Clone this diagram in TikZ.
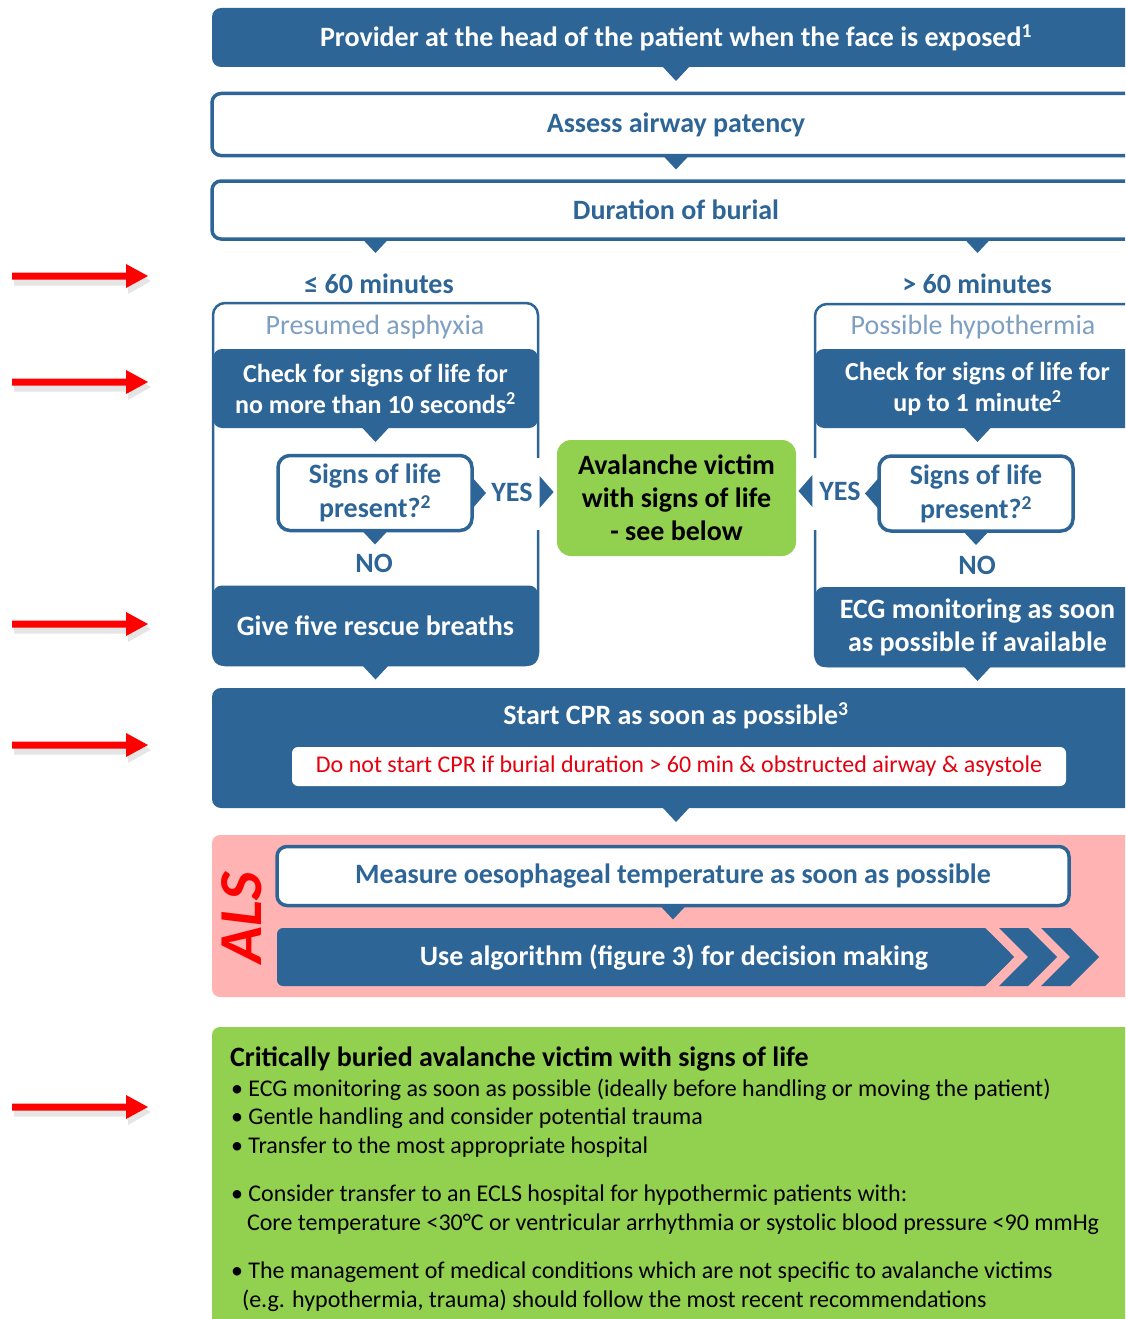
\documentclass[tikz,border=0pt]{standalone}
\usepackage{fontspec}
\setmainfont{Carlito}
\usetikzlibrary{calc}

\definecolor{navy}{HTML}{2E6597}
\definecolor{leaf}{HTML}{92D050}
\definecolor{blush}{HTML}{FFB3B3}
\definecolor{mist}{HTML}{7F9FC1}
\definecolor{alarm}{HTML}{FF0000}
\definecolor{warnred}{HTML}{E5000F}

% small pointer triangles that join the boxes
\newcommand\notchdown[1]{\fill[navy] ($(#1)+(-14,-1)$) -- ($(#1)+(14,-1)$) -- ($(#1)+(0,14)$) -- cycle;}
\newcommand\notchright[1]{\fill[navy] ($(#1)+(0,-16)$) -- ($(#1)+(14,0)$) -- ($(#1)+(0,16)$) -- cycle;}
\newcommand\notchleft[1]{\fill[navy] ($(#1)+(0,-16)$) -- ($(#1)+(-14,0)$) -- ($(#1)+(0,16)$) -- cycle;}

\tikzset{
  every node/.style={inner sep=0pt, outer sep=0pt},
  big/.style={font=\bfseries\fontsize{28}{33}\selectfont},
  solid box/.style={big, fill=navy, text=white, rounded corners=9, align=center},
  check box/.style={solid box, font=\bfseries\fontsize{26}{31}\selectfont},
  outline box/.style={big, draw=navy, line width=3.5, fill=white, text=navy, rounded corners=9, align=center},
  panel/.style={draw=navy, line width=2.5, fill=white, rounded corners=12},
  navytag/.style={big, text=navy},
  subtle/.style={font=\fontsize{28}{30}\selectfont, text=mist},
  query/.style={outline box, minimum width=194, minimum height=75, rounded corners=12, font=\bfseries\fontsize{28}{34}\selectfont},
  vital/.style={big, fill=leaf, text=black, rounded corners=14, align=center},
  caveat/.style={fill=white, rounded corners=6, text=warnred, font=\fontsize{24}{26}\selectfont},
  careline/.style={anchor=base west, text=black, font=\fontsize{24}{26}\selectfont},
  cue/.pic={
    \fill[black, opacity=0.10] (2,0.5) -- (116,0.5) -- (116,-8) -- (139,5) -- (116,18) -- (116,9.5) -- (2,9.5) -- cycle;
    \fill[alarm] (0,-3.5) -- (114,-3.5) -- (114,-12) -- (136,0) -- (114,12) -- (114,3.5) -- (0,3.5) -- cycle;
  }
}

\begin{document}
\begin{tikzpicture}[x=1pt,y=-1pt]
\useasboundingbox (0,0) rectangle (1125,1319);
\clip (0,0) rectangle (1125,1319);
\fill[white] (0,0) rectangle (1125,1319);

% ---- common trunk ----
\node[solid box, minimum width=928, minimum height=59] (head) at (676,37.5)
  {Provider at the head of the patient when the face is exposed\textsuperscript{1}};
\node[outline box, minimum width=928, minimum height=62] (airway) at (676,124.5) {Assess airway patency};
\node[outline box, minimum width=928, minimum height=58] (burial) at (676,210) {Duration of burial};
\notchdown{head.south}
\notchdown{airway.south}

% ---- left branch: up to 60 minutes ----
\node[panel, minimum width=325, minimum height=362] (lframe) at (375.5,484) {};
\node[navytag] (lshort) at (379,284) {≤ 60 minutes};
\node[subtle] (lcause) at (375,327) {Presumed asphyxia};
\node[check box, minimum width=325, minimum height=79] (lcheck) at (375.5,388.5)
  {Check for signs of life for\\no more than 10 seconds\textsuperscript{2}};
\node[query] (lsigns) at (375,493) {Signs of life\\present?\textsuperscript{2}};
\node[navytag] (lyes) at (512,492) {YES};
\node[navytag] (lno) at (374,563) {NO};
\node[solid box, minimum width=325, minimum height=80] (lbreath) at (375.5,625.5) {Give five rescue breaths};

% ---- right branch: over 60 minutes ----
\node[panel, minimum width=325, minimum height=362] (rframe) at (977.5,485) {};
\node[navytag] (rlong) at (977,284) {> 60 minutes};
\node[subtle] (rcause) at (973,327) {Possible hypothermia};
\node[check box, minimum width=325, minimum height=79] (rcheck) at (977.5,388.5)
  {Check for signs of life for\\up to 1 minute\textsuperscript{2}};
\node[query] (rsigns) at (976,493.5) {Signs of life\\present?\textsuperscript{2}};
\node[navytag] (ryes) at (840,491) {YES};
\node[navytag] (rno) at (977,565) {NO};
\node[solid box, minimum width=325, minimum height=80] (recg) at (977.5,627)
  {ECG monitoring as soon\\as possible if available};

% openings in the panel borders where YES leads out
\fill[white] ($(lframe.east |- lsigns.north)+(-3,2)$) rectangle ($(lframe.east |- lsigns.south)+(3,-1)$);
\fill[white] ($(rframe.west |- rsigns.north)+(-3,2)$) rectangle ($(rframe.west |- rsigns.south)+(3,-1)$);

% ---- centre: victim with signs of life ----
\node[vital, minimum width=239, minimum height=116] (victim) at (676.5,498)
  {Avalanche victim\\with signs of life\\- see below};

% pointers
\notchdown{burial.south -| lframe.center}
\notchdown{burial.south -| rframe.center}
\notchdown{lcheck.south}
\notchdown{rcheck.south}
\notchdown{lsigns.south}
\notchdown{rsigns.south}
\notchright{lsigns.east}
\notchleft{rsigns.west}
\notchright{$(lyes.east)+(7,0)$}
\notchleft{$(ryes.west)+(-7,0)$}
\notchdown{lbreath.south}
\notchdown{recg.south}

% ---- CPR ----
\node[solid box, minimum width=928, minimum height=120] (cpr) at (676,748) {};
\node[big, text=white] (cprhead) at (676,716) {Start CPR as soon as possible\textsuperscript{3}};
\node[caveat, minimum width=774, minimum height=39] (nocpr) at (679,766.5)
  {Do not start CPR if burial duration > 60 min \& obstructed airway \& asystole};
\notchdown{cpr.south}

% ---- ALS ----
\node[fill=blush, rounded corners=8, minimum width=928, minimum height=162] (als) at (676,916) {};
\node[rotate=90, text=alarm, font=\bfseries\itshape\fontsize{61}{61}\selectfont] (alstag) at (242,918) {ALS};
\node[outline box, minimum width=792, minimum height=59, rounded corners=10] (temp) at (673,876)
  {Measure oesophageal temperature as soon as possible};
\fill[navy, rounded corners=6] (277,928) -- (985,928) -- (1014,957) -- (985,986) -- (277,986) -- cycle;
\fill[navy] (975,928) -- (985,928) -- (1014,957) -- (985,986) -- (975,986) -- cycle;
\fill[navy] (999,928) -- (1028,928) -- (1057,957) -- (1028,986) -- (999,986) -- (1028,957) -- cycle;
\fill[navy] (1041,928) -- (1070,928) -- (1099,957) -- (1070,986) -- (1041,986) -- (1070,957) -- cycle;
\node[big, text=white] (algo) at (674,957) {Use algorithm (figure 3) for decision making};
\notchdown{temp.south}

% ---- care of the victim with signs of life ----
\node[fill=leaf, rounded corners=8, minimum width=928, minimum height=330, anchor=north] (care) at (676,1027) {};
\node[careline, font=\bfseries\fontsize{28}{30}\selectfont] (care0) at (230,1066) {Critically buried avalanche victim with signs of life};
\node[careline] (care1) at (231,1096) {• ECG monitoring as soon as possible (ideally before handling or moving the patient)};
\node[careline] (care2) at (231,1124) {• Gentle handling and consider potential trauma};
\node[careline] (care3) at (231,1153) {• Transfer to the most appropriate hospital};
\node[careline] (care4) at (231,1201) {• Consider transfer to an ECLS hospital for hypothermic patients with:};
\node[careline] (care5) at (247,1230) {Core temperature <30°C or ventricular arrhythmia or systolic blood pressure <90 mmHg};
\node[careline] (care6) at (231,1278) {• The management of medical conditions which are not specific to avalanche victims};
\node[careline] (care7) at (242,1307) {(e.g. hypothermia, trauma) should follow the most recent recommendations};

% ---- red markers in the margin ----
\pic at (12,276) {cue};
\pic at (12,382) {cue};
\pic at (12,624) {cue};
\pic at (12,745) {cue};
\pic at (12,1107) {cue};
\end{tikzpicture}
\end{document}
